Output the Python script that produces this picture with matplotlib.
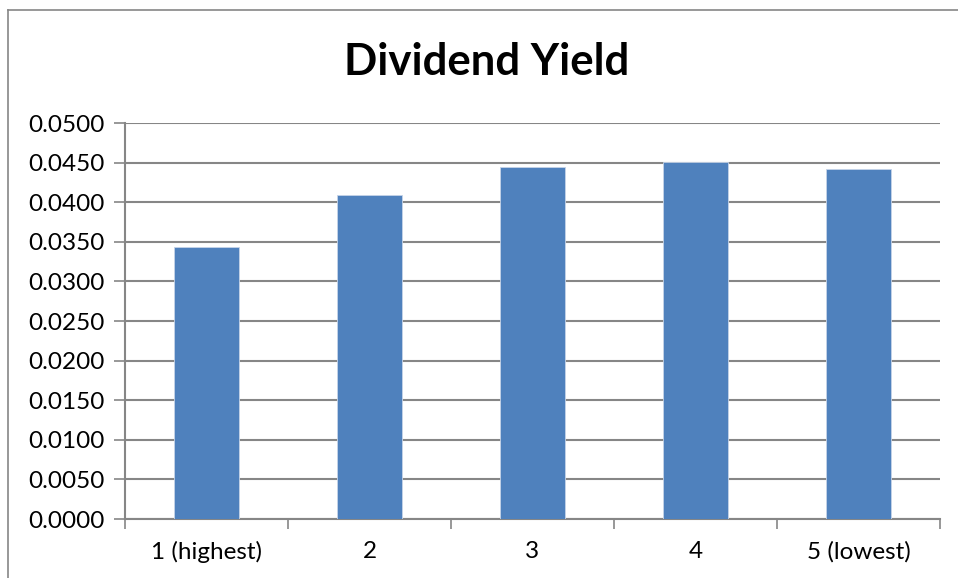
import matplotlib.pyplot as plt
from matplotlib.lines import Line2D

# Quintile data
categories = ['1 (highest)', '2', '3', '4', '5 (lowest)']
dividend_yield = [0.0344, 0.0409, 0.0444, 0.0451, 0.0442]
y_ticks = [i * 0.005 for i in range(11)]

plt.rcParams['font.family'] = ['Lato', 'DejaVu Sans']

fig = plt.figure(figsize=(9.58, 5.78), dpi=100)
ax = fig.add_axes([125 / 958, 59 / 578, 815 / 958, 396 / 578])

grey = '#868686'
x = list(range(len(categories)))
ax.bar(x, dividend_yield, width=0.4, color='#4F81BD', edgecolor='#C6D4E8',
       linewidth=0.6, zorder=3)

ax.set_xlim(-0.5, len(categories) - 0.5)
ax.set_ylim(0, 0.05)
ax.set_yticks(y_ticks)
ax.set_yticklabels([f'{v:.4f}' for v in y_ticks])
ax.yaxis.grid(True, color=grey, linewidth=1.5, zorder=0)

# category labels at centres, tick marks at the boundaries
ax.set_xticks(x)
ax.set_xticklabels(categories)
ax.set_xticks([i - 0.5 for i in range(len(categories) + 1)], minor=True)
ax.tick_params(axis='x', which='major', length=0, pad=16, labelsize=17.5)
ax.tick_params(axis='x', which='minor', length=7, width=1.2, color=grey, direction='out')
ax.tick_params(axis='y', length=8, width=1.2, color=grey, direction='out', pad=7, labelsize=17.5)

for side in ['top', 'right']:
    ax.spines[side].set_visible(False)
for side in ['left', 'bottom']:
    ax.spines[side].set_color(grey)
    ax.spines[side].set_linewidth(1.5)

fig.text(487 / 958, 1 - 62 / 578, 'Dividend Yield', ha='center', va='center',
         fontsize=31.5, fontweight='bold')

# outer chart frame
fig.add_artist(Line2D([8 / 958, 8 / 958], [0, 1 - 10 / 578], color=grey, linewidth=1.2,
                      transform=fig.transFigure))
fig.add_artist(Line2D([8 / 958, 1], [1 - 10 / 578, 1 - 10 / 578], color=grey, linewidth=1.2,
                      transform=fig.transFigure))

fig.savefig('out.png', dpi=100)
